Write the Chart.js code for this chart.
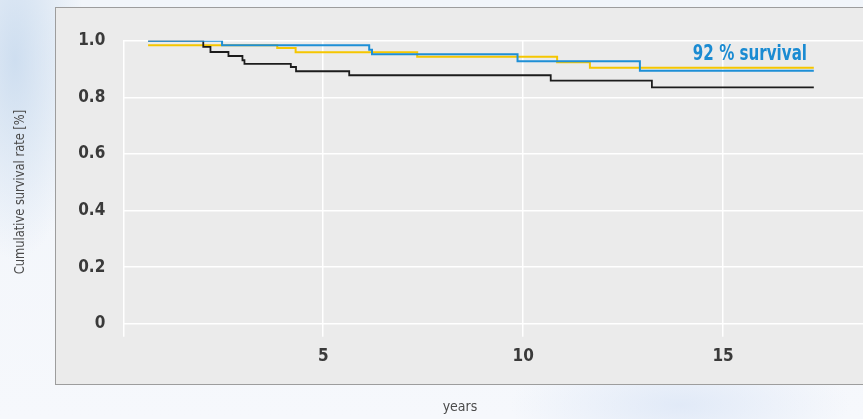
<!DOCTYPE html>
<html><head><meta charset="utf-8">
<script src="https://cdn.jsdelivr.net/npm/chart.js@4.4.1/dist/chart.umd.min.js"></script>
<style>
html,body{margin:0;padding:0;width:863px;height:419px;overflow:hidden;}
body{background:
  radial-gradient(ellipse 70px 200px at 15px 60px, rgba(200,218,238,0.85), rgba(200,218,238,0) 100%),
  radial-gradient(ellipse 170px 60px at 680px 405px, rgba(218,229,246,0.75), rgba(218,229,246,0) 100%),
  linear-gradient(180deg,#f1f5fa 0%,#f6f8fc 100%);}
canvas{display:block;}
</style></head><body>
<canvas id="c" width="863" height="419"></canvas>
<script>
// ---- data ----
const xTickValues = [0, 5, 10, 15];
const yTickValues = [0, 0.2, 0.4, 0.6, 0.8, 1.0];

const blueTimes  = [0.62, 2.47, 6.15, 6.22, 9.86, 12.92, 17.27];
const blueValues = [1.000, 0.984, 0.968, 0.952, 0.927, 0.894, 0.894];

const yellowTimes  = [0.62, 3.85, 4.31, 7.35, 10.85, 11.67, 17.27];
const yellowValues = [0.984, 0.974, 0.959, 0.943, 0.924, 0.904, 0.904];

const blackTimes  = [0.62, 2.00, 2.18, 2.63, 2.98, 3.03, 4.19, 4.32, 5.65, 10.69, 13.22, 17.27];
const blackValues = [1.000, 0.978, 0.960, 0.946, 0.931, 0.918, 0.907, 0.892, 0.878, 0.859, 0.835, 0.835];

const annotationText = '92 % survival';
const yTitle = 'Cumulative survival rate [%]';
const xTitle = 'years';

const toPts = (t, v) => t.map((x, i) => ({x: x, y: v[i]}));
const FAM = '"Liberation Sans Narrow", "DejaVu Sans Condensed", "Roboto", sans-serif';

const decor = {
  id: 'decor',
  beforeDraw(chart) {
    const ctx = chart.ctx;
    ctx.save();
    ctx.fillStyle = '#ebebeb';
    ctx.fillRect(55, 7, 820, 378);
    ctx.strokeStyle = '#9d9d9d';
    ctx.lineWidth = 1;
    ctx.strokeRect(55.5, 7.5, 830, 377);
    ctx.restore();
  },
  afterDraw(chart) {
    const ctx = chart.ctx;
    ctx.save();
    // annotation (condensed)
    ctx.fillStyle = '#1a8bd2';
    ctx.font = 'bold 21px ' + FAM;
    ctx.textAlign = 'right';
    ctx.textBaseline = 'alphabetic';
    ctx.save();
    ctx.translate(807, 59.5);
    ctx.scale(0.8, 1);
    ctx.fillText(annotationText, 0, 0);
    ctx.restore();
    // titles
    ctx.fillStyle = '#4a4a4a';
    ctx.font = '14px ' + FAM;
    ctx.textAlign = 'center';
    ctx.textBaseline = 'middle';
    ctx.fillText(xTitle, 460, 407);
    ctx.translate(20, 192);
    ctx.rotate(-Math.PI / 2);
    ctx.scale(0.91, 1);
    ctx.fillText(yTitle, 0, 0);
    ctx.restore();
  }
};

new Chart(document.getElementById('c'), {
  type: 'line',
  data: {
    datasets: [
      {data: toPts(blueTimes, blueValues), borderColor: '#1e8fd6', borderWidth: 2, stepped: 'before', pointRadius: 0, fill: false},
      {data: toPts(blackTimes, blackValues), borderColor: '#1c1c1c', borderWidth: 1.8, stepped: 'before', pointRadius: 0, fill: false},
      {data: toPts(yellowTimes, yellowValues), borderColor: '#f5c600', borderWidth: 2, stepped: 'before', pointRadius: 0, fill: false}
    ]
  },
  options: {
    responsive: false,
    animation: false,
    layout: {padding: {top: 40.7, left: 0, right: 0, bottom: 0}},
    plugins: {legend: {display: false}, tooltip: {enabled: false}},
    scales: {
      x: {
        type: 'linear', min: 0, max: 18.5,
        afterFit(s) { s.height = 95.3; },
        afterBuildTicks(s) { s.ticks = xTickValues.map(v => ({value: v})); },
        grid: {color: '#ffffff', lineWidth: 1.5, drawTicks: true, tickLength: 13, tickColor: '#ffffff'},
        border: {display: false},
        ticks: {
          padding: 10,
          color: '#3a3a3a',
          font: {family: FAM, size: 17, weight: 'bold'},
          callback: v => v === 0 ? '' : String(v)
        }
      },
      y: {
        type: 'linear', min: 0, max: 1.0,
        afterFit(s) { s.width = 123.3; },
        afterBuildTicks(s) { s.ticks = yTickValues.map(v => ({value: v})); },
        grid: {color: '#ffffff', lineWidth: 1.5, drawTicks: false},
        border: {display: false},
        ticks: {
          padding: 18,
          color: '#3a3a3a',
          font: {family: FAM, size: 17, weight: 'bold'},
          callback: v => v === 0 ? '0' : Number(v).toFixed(1)
        }
      }
    }
  },
  plugins: [decor]
});
</script>
</body></html>
